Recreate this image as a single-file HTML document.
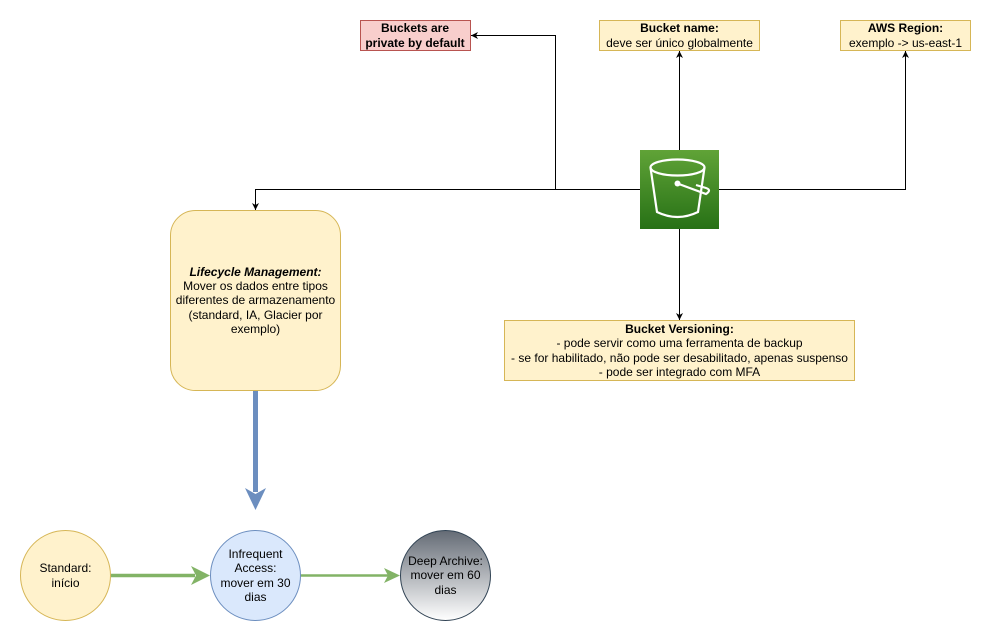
<!DOCTYPE html>
<html><head><meta charset="utf-8"><style>
html,body{margin:0;padding:0;background:#fff;}
svg{display:block;font-family:"Liberation Sans",sans-serif;}
</style></head><body>
<svg width="992" height="642" viewBox="0 0 992 642" xmlns="http://www.w3.org/2000/svg">
<defs>
<marker id="a" markerWidth="8" markerHeight="8" refX="7" refY="4" orient="auto" markerUnits="userSpaceOnUse">
<path d="M0,0.5 L7,4 L0,7.5 L2,4 Z" fill="#000"/></marker>
<linearGradient id="g" x1="0" y1="0" x2="0" y2="1"><stop offset="0" stop-color="#60a337"/><stop offset="1" stop-color="#277116"/></linearGradient>
<linearGradient id="d" x1="0" y1="0" x2="0" y2="1"><stop offset="0" stop-color="#646b75"/><stop offset="1" stop-color="#ffffff"/></linearGradient>
</defs>
<!-- connectors -->
<g stroke="#000" stroke-width="1" fill="none">
<path d="M640.5,189.5 H555.5 V35.5 H471" marker-end="url(#a)"/>
<path d="M679.5,150 V51" marker-end="url(#a)"/>
<path d="M719,189.5 H905.5 V51" marker-end="url(#a)"/>
<path d="M640.5,189.5 H255.5 V210" marker-end="url(#a)"/>
<path d="M679.5,229 V320" marker-end="url(#a)"/>
</g>
<!-- boxes -->
<rect x="360.5" y="20.5" width="110" height="30" fill="#f8cecc" stroke="#b85450"/>
<text x="415" y="32" font-size="12" font-weight="bold" text-anchor="middle">Buckets are</text>
<text x="415" y="47" font-size="12" font-weight="bold" text-anchor="middle">private by default</text>
<rect x="599.5" y="20.5" width="160" height="30" fill="#fff2cc" stroke="#d6b656"/>
<text x="679.5" y="32" font-size="12" font-weight="bold" text-anchor="middle">Bucket name:</text>
<text x="679.5" y="47" font-size="12" text-anchor="middle">deve ser único globalmente</text>
<rect x="840.5" y="20.5" width="130" height="30" fill="#fff2cc" stroke="#d6b656"/>
<text x="905.5" y="32" font-size="12" font-weight="bold" text-anchor="middle">AWS Region:</text>
<text x="905.5" y="47" font-size="12" text-anchor="middle">exemplo -&gt; us-east-1</text>
<!-- S3 icon -->
<rect x="640" y="150" width="79" height="79" fill="url(#g)"/>
<g stroke="#fff" stroke-width="2.2" fill="none">
<ellipse cx="677.5" cy="167.5" rx="27" ry="8"/>
<path d="M650.5,167.5 L657,212 Q677.5,222 698,212 L704.5,167.5"/>
<path d="M677.5,183.5 L706,194 Q712,190 706,188 L696,185"/>
</g>
<circle cx="677.5" cy="183.5" r="3" fill="#fff"/>
<!-- lifecycle -->
<rect x="170.5" y="210.5" width="170" height="180" rx="25" fill="#fff2cc" stroke="#d6b656"/>
<g font-size="12" text-anchor="middle">
<text x="255.5" y="276" font-weight="bold" font-style="italic">Lifecycle Management:</text>
<text x="255.5" y="290">Mover os dados entre tipos</text>
<text x="255.5" y="304">diferentes de armazenamento</text>
<text x="255.5" y="319">(standard, IA, Glacier por</text>
<text x="255.5" y="333">exemplo)</text>
</g>
<!-- versioning -->
<rect x="504.5" y="320.5" width="350" height="60" fill="#fff2cc" stroke="#d6b656"/>
<g font-size="12" text-anchor="middle">
<text x="679.5" y="333" font-weight="bold">Bucket Versioning:</text>
<text x="679.5" y="347">- pode servir como uma ferramenta de backup</text>
<text x="679.5" y="362">- se for habilitado, não pode ser desabilitado, apenas suspenso</text>
<text x="679.5" y="376">- pode ser integrado com MFA</text>
</g>
<!-- blue arrow -->
<path d="M255.5,391 V492" stroke="#6c8ebf" stroke-width="5"/>
<path d="M245,488 L255.5,510 L266,488 L255.5,494 Z" fill="#6c8ebf"/>
<!-- green arrows -->
<path d="M111,575.5 H195" stroke="#82b366" stroke-width="3.5"/>
<path d="M191,566 L210,575.5 L191,585 L196,575.5 Z" fill="#82b366"/>
<path d="M301,575.5 H388" stroke="#82b366" stroke-width="2.5"/>
<path d="M384,568 L400,575.5 L384,583 L388,575.5 Z" fill="#82b366"/>
<!-- circles -->
<circle cx="65.5" cy="575.5" r="45" fill="#fff2cc" stroke="#d6b656"/>
<g font-size="12" text-anchor="middle">
<text x="65.5" y="572">Standard:</text>
<text x="65.5" y="587">início</text>
</g>
<circle cx="255.5" cy="575.5" r="45" fill="#dae8fc" stroke="#6c8ebf"/>
<g font-size="12" text-anchor="middle">
<text x="255.5" y="558">Infrequent</text>
<text x="255.5" y="572">Access:</text>
<text x="255.5" y="587">mover em 30</text>
<text x="255.5" y="601">dias</text>
</g>
<circle cx="445.5" cy="575.5" r="45" fill="url(#d)" stroke="#314354"/>
<g font-size="12" text-anchor="middle">
<text x="445.5" y="565">Deep Archive:</text>
<text x="445.5" y="579">mover em 60</text>
<text x="445.5" y="594">dias</text>
</g>
</svg>
</body></html>
